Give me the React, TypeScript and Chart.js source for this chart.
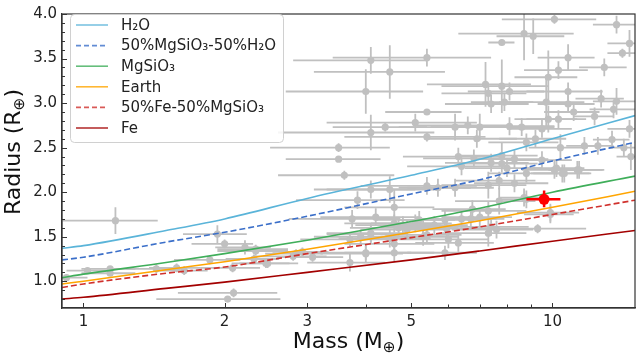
import { useEffect, useRef } from 'react';
import { Chart, registerables } from 'chart.js';

Chart.register(...registerables);

// ---------- model curves (mass in Earth masses, radius in Earth radii) ----------
const curveMass = [0.9, 1, 1.5, 2, 3, 5, 7, 10, 15];
const h2oRadius = [1.37, 1.40, 1.57, 1.70, 1.93, 2.19, 2.37, 2.60, 2.86];
const mgH2oRadius = [1.24, 1.27, 1.44, 1.55, 1.73, 1.98, 2.14, 2.35, 2.56];
const mgsio3Radius = [1.04, 1.08, 1.21, 1.31, 1.46, 1.67, 1.82, 2.00, 2.18];
const earthRadius = [0.97, 1.00, 1.13, 1.22, 1.36, 1.55, 1.68, 1.83, 2.01];
const feMgRadius = [0.93, 0.97, 1.09, 1.16, 1.31, 1.49, 1.61, 1.75, 1.91];
const feRadius = [0.80, 0.82, 0.92, 0.99, 1.10, 1.24, 1.34, 1.45, 1.57];

const seriesNames = ['H₂O', '50%MgSiO₃-50%H₂O', 'MgSiO₃', 'Earth', '50%Fe-50%MgSiO₃', 'Fe'];
const seriesColors = ['#5ab4d9', '#3b6fc9', '#3fae5a', '#ffa500', '#d0312d', '#a30000'];
const seriesDashed = [false, true, false, false, true, false];
const seriesRadii = [h2oRadius, mgH2oRadius, mgsio3Radius, earthRadius, feMgRadius, feRadius];

// ---------- known planets ----------
const planetMass = [
  10.1, 13.7, 8.7, 9.1, 7.8, 14.6, 14.1, 5.4, 4.1, 4.5, 4.0, 10.8, 10.3, 12.9, 9.8, 7.2, 7.8, 8.1, 7.3, 10.8,
  9.7, 7.4, 7.9, 10.8, 12.7, 13.7, 5.4, 11.1, 13.5, 12.3, 9.8, 5.1, 4.1, 4.4, 6.2, 6.6, 7.0, 8.1, 8.6, 9.5,
  10.3, 14.6, 5.4, 6.9, 8.8, 9.2, 13.4, 11.7, 12.5, 14.2, 3.5, 3.5, 3.6, 10.4, 14.7, 6.3, 6.8, 7.8, 8.3, 9.5,
  7.4, 7.8, 10.2, 10.6, 11.3, 8.8, 6.4,
  1.17, 0.92, 1.02, 1.14, 1.14, 1.43, 1.58, 1.64, 1.86, 1.93, 2.0, 2.21, 2.33, 2.08, 2.31, 2.45, 2.03, 2.09,
  2.84, 2.93, 3.08,
  3.84, 3.74, 4.1, 4.5, 4.6, 4.2, 4.6, 5.4, 5.7, 6.2, 7.3, 7.7, 8.3, 6.7, 7.3, 7.7, 8.8, 9.9, 9.3, 7.0,
  6.4, 5.9, 5.6, 5.3, 5.1, 4.9, 4.7, 4.5, 4.6, 4.6, 4.0, 3.9, 4.1, 3.7, 3.7, 6.0, 6.3, 5.9, 7.3, 7.6,
  7.4, 5.3, 4.8, 4.1, 4.0, 2.8, 2.47, 2.33, 5.95, 5.2, 5.4, 8.0, 10.1, 10.5, 11.4, 8.7, 6.75, 9.9,
];
const planetRadius = [
  3.94, 3.88, 3.78, 3.75, 3.68, 3.67, 3.56, 3.51, 3.48, 3.35, 3.13, 3.51, 3.37, 3.40, 3.29, 3.21, 3.19, 3.13, 3.11, 3.13,
  3.01, 2.99, 3.01, 2.99, 3.05, 3.02, 2.90, 2.90, 2.93, 2.85, 2.82, 2.78, 2.67, 2.73, 2.73, 2.75, 2.73, 2.74, 2.73, 2.71,
  2.82, 2.71, 2.62, 2.60, 2.56, 2.60, 2.59, 2.52, 2.52, 2.50, 2.50, 2.37, 2.19, 2.50, 2.40, 2.40, 2.38, 2.41, 2.37, 2.36,
  2.33, 2.32, 2.27, 2.21, 2.25, 2.21, 2.29,
  1.68, 1.04, 1.12, 1.14, 1.09, 1.14, 1.15, 1.12, 1.24, 1.53, 1.42, 1.38, 1.34, 1.15, 1.25, 1.20, 0.80, 0.87,
  1.31, 1.33, 1.27,
  1.91, 1.70, 2.03, 2.03, 1.83, 1.72, 1.65, 2.07, 2.05, 2.05, 2.08, 2.13, 2.10, 1.70, 1.79, 1.90, 1.92, 1.77, 1.59, 1.72,
  1.70, 1.69, 1.63, 1.61, 1.65, 1.58, 1.60, 1.48, 1.42, 1.32, 1.32, 1.50, 1.53, 1.47, 1.21, 1.47, 1.43, 1.32, 1.54, 1.58,
  1.61, 1.50, 1.63, 1.54, 1.31, 1.28, 1.20, 1.36, 1.59, 1.69, 1.52, 2.27, 2.25, 2.21, 2.25, 1.94, 1.81, 1.75,
];
const planetMassErr = [
  2.3, 1.5, 2.4, 1.5, 0.5, 1.5, 1.0, 2.0, 1.3, 1.4, 1.3, 1.5, 1.6, 1.5, 1.5, 1.8, 2.0, 1.5, 1.5, 2.0,
  2.0, 1.5, 1.2, 1.5, 1.5, 1.5, 1.0, 1.5, 1.5, 1.2, 1.5, 1.8, 1.5, 1.0, 1.5, 1.5, 1.5, 2.0, 1.5, 1.5,
  1.5, 1.5, 1.8, 1.5, 1.5, 1.5, 1.2, 1.0, 1.0, 1.0, 1.0, 0.8, 1.0, 1.5, 1.0, 1.5, 1.5, 1.5, 1.5, 1.5,
  1.5, 1.5, 1.5, 1.5, 1.5, 1.5, 1.5,
  0.27, 0.1, 0.1, 0.15, 0.15, 0.2, 0.2, 0.2, 0.3, 0.3, 0.3, 0.3, 0.4, 0.3, 0.3, 0.3, 0.6, 0.5,
  0.4, 0.4, 0.5,
  1.0, 1.0, 1.0, 1.2, 1.0, 1.0, 1.0, 1.5, 1.0, 1.3, 1.5, 1.5, 1.5, 1.2, 1.5, 1.5, 1.2, 1.5, 2.5, 1.2,
  1.2, 1.2, 1.0, 1.0, 1.0, 1.0, 1.0, 1.0, 1.0, 1.0, 1.0, 0.8, 0.8, 0.8, 0.7, 1.3, 1.2, 1.0, 1.5, 1.5,
  1.5, 1.0, 1.0, 0.8, 0.8, 0.5, 0.4, 0.4, 1.2, 1.0, 1.0, 1.5, 1.5, 1.5, 1.5, 1.0, 1.2, 1.2,
];
const planetRadiusErr = [
  0.05, 0.1, 0.3, 0.2, 0.03, 0.15, 0.05, 0.1, 0.15, 0.3, 0.25, 0.15, 0.1, 0.1, 0.3, 0.25, 0.3, 0.1, 0.1, 0.1,
  0.3, 0.1, 0.1, 0.1, 0.1, 0.15, 0.03, 0.1, 0.1, 0.1, 0.15, 0.1, 0.2, 0.05, 0.15, 0.1, 0.15, 0.1, 0.1, 0.1,
  0.1, 0.1, 0.05, 0.1, 0.1, 0.1, 0.1, 0.1, 0.1, 0.1, 0.05, 0.03, 0.05, 0.15, 0.15, 0.1, 0.1, 0.15, 0.1, 0.1,
  0.1, 0.1, 0.1, 0.1, 0.1, 0.1, 0.1,
  0.15, 0.03, 0.03, 0.03, 0.03, 0.05, 0.05, 0.05, 0.05, 0.1, 0.05, 0.08, 0.05, 0.05, 0.05, 0.05, 0.03, 0.05,
  0.05, 0.05, 0.05,
  0.1, 0.1, 0.1, 0.15, 0.2, 0.1, 0.1, 0.1, 0.1, 0.1, 0.15, 0.1, 0.1, 0.1, 0.1, 0.15, 0.1, 0.1, 0.05, 0.1,
  0.1, 0.1, 0.1, 0.1, 0.1, 0.1, 0.1, 0.1, 0.1, 0.1, 0.08, 0.08, 0.1, 0.08, 0.1, 0.1, 0.1, 0.08, 0.15, 0.1,
  0.1, 0.1, 0.1, 0.1, 0.1, 0.05, 0.05, 0.05, 0.1, 0.1, 0.1, 0.1, 0.1, 0.1, 0.1, 0.1, 0.1, 0.1,
];

// ---------- highlighted planet ----------
const targetMass = [9.6];
const targetRadius = [1.92];
const targetMassLow = [8.8];
const targetMassHigh = [10.4];
const targetRadiusLow = [1.83];
const targetRadiusHigh = [2.02];

// ---------- axes ----------
const xTickValues = [1, 2, 3, 5, 10];
const xMinorTicks = [4, 6, 7, 8, 9];
const yTickValues = [1.0, 1.5, 2.0, 2.5, 3.0, 3.5, 4.0];
const xMin = 0.9;
const xMax = 15;
const yMin = 0.7;
const yMax = 4.0;

const FONT = '"DejaVu Sans", "Liberation Sans", sans-serif';
const GRAY = '#c0c0c0';

function drawSubLabel(ctx: CanvasRenderingContext2D, main: string, sub: string, tail: string, size: number) {
  ctx.font = `${size}px ${FONT}`;
  const w1 = ctx.measureText(main).width;
  const w3 = ctx.measureText(tail).width;
  ctx.font = `${size * 0.7}px ${FONT}`;
  const w2 = ctx.measureText(sub).width;
  const total = w1 + w2 + w3;
  let x = -total / 2;
  ctx.textAlign = 'left';
  ctx.textBaseline = 'alphabetic';
  ctx.font = `${size}px ${FONT}`;
  ctx.fillText(main, x, 0);
  x += w1;
  ctx.font = `${size * 0.7}px ${FONT}`;
  ctx.fillText(sub, x, size * 0.2);
  x += w2;
  ctx.font = `${size}px ${FONT}`;
  ctx.fillText(tail, x, 0);
}

const decorPlugin = {
  id: 'decor',
  beforeDatasetsDraw(chart: any) {
    const { ctx, chartArea, scales } = chart;
    const xs = scales.x;
    const ys = scales.y;
    ctx.save();
    ctx.beginPath();
    ctx.rect(chartArea.left, chartArea.top, chartArea.right - chartArea.left, chartArea.bottom - chartArea.top);
    ctx.clip();
    ctx.strokeStyle = GRAY;
    ctx.lineWidth = 1.8;
    for (let i = 0; i < planetMass.length; i++) {
      const m = planetMass[i];
      const r = planetRadius[i];
      const px = xs.getPixelForValue(m);
      const py = ys.getPixelForValue(r);
      const x0 = xs.getPixelForValue(Math.max(m - planetMassErr[i], 0.05));
      const x1 = xs.getPixelForValue(m + planetMassErr[i]);
      const y0 = ys.getPixelForValue(r - planetRadiusErr[i]);
      const y1 = ys.getPixelForValue(r + planetRadiusErr[i]);
      ctx.beginPath();
      ctx.moveTo(x0, py);
      ctx.lineTo(x1, py);
      ctx.moveTo(px, y0);
      ctx.lineTo(px, y1);
      ctx.stroke();
    }
    ctx.restore();
  },
  afterDatasetsDraw(chart: any) {
    const { ctx, scales } = chart;
    const xs = scales.x;
    const ys = scales.y;
    ctx.save();
    ctx.strokeStyle = '#ff0000';
    ctx.lineWidth = 2.5;
    for (let i = 0; i < targetMass.length; i++) {
      const px = xs.getPixelForValue(targetMass[i]);
      const py = ys.getPixelForValue(targetRadius[i]);
      ctx.beginPath();
      ctx.moveTo(xs.getPixelForValue(targetMassLow[i]), py);
      ctx.lineTo(xs.getPixelForValue(targetMassHigh[i]), py);
      ctx.moveTo(px, ys.getPixelForValue(targetRadiusLow[i]));
      ctx.lineTo(px, ys.getPixelForValue(targetRadiusHigh[i]));
      ctx.stroke();
      ctx.fillStyle = '#ff0000';
      ctx.beginPath();
      ctx.arc(px, py, 5.5, 0, Math.PI * 2);
      ctx.fill();
    }
    ctx.restore();
  },
  afterDraw(chart: any) {
    const { ctx, chartArea, scales } = chart;
    const xs = scales.x;
    const ys = scales.y;
    const { left, right, top, bottom } = chartArea;
    ctx.save();
    // frame
    ctx.strokeStyle = '#333333';
    ctx.lineWidth = 1.2;
    ctx.strokeRect(left, top, right - left, bottom - top);
    // inward ticks
    ctx.strokeStyle = '#333333';
    ctx.lineWidth = 1;
    ctx.beginPath();
    for (const v of xTickValues) {
      const p = Math.round(xs.getPixelForValue(v)) + 0.5;
      ctx.moveTo(p, bottom);
      ctx.lineTo(p, bottom - 5);
    }
    for (const v of xMinorTicks) {
      const p = Math.round(xs.getPixelForValue(v)) + 0.5;
      ctx.moveTo(p, bottom);
      ctx.lineTo(p, bottom - 3.5);
    }
    for (const v of yTickValues) {
      const p = Math.round(ys.getPixelForValue(v)) + 0.5;
      ctx.moveTo(left, p);
      ctx.lineTo(left + 5, p);
    }
    for (let k = 8; k < 40; k++) {
      if (k % 5 === 0) continue;
      const p = Math.round(ys.getPixelForValue(k / 10)) + 0.5;
      ctx.moveTo(left, p);
      ctx.lineTo(left + 3, p);
    }
    ctx.stroke();

    // axis titles
    ctx.fillStyle = '#111111';
    ctx.save();
    ctx.translate((left + right) / 2, 348);
    drawSubLabel(ctx, 'Mass (M', '⊕', ')', 22);
    ctx.restore();
    ctx.save();
    ctx.translate(20, 152);
    ctx.rotate(-Math.PI / 2);
    drawSubLabel(ctx, 'Radius (R', '⊕', ')', 22);
    ctx.restore();

    // legend
    const bx = 70.5;
    const by = 14.5;
    const bw = 213;
    const bh = 128;
    ctx.beginPath();
    ctx.roundRect(bx, by, bw, bh, 4);
    ctx.fillStyle = 'rgba(255,255,255,0.85)';
    ctx.fill();
    ctx.strokeStyle = '#d0d0d0';
    ctx.lineWidth = 1;
    ctx.stroke();
    ctx.font = `15px ${FONT}`;
    ctx.textAlign = 'left';
    ctx.textBaseline = 'middle';
    for (let i = 0; i < seriesNames.length; i++) {
      const y = 25 + i * 20.6;
      ctx.beginPath();
      ctx.setLineDash(seriesDashed[i] ? [5, 3] : []);
      ctx.strokeStyle = seriesColors[i];
      ctx.globalAlpha = 0.8;
      ctx.lineWidth = 1.6;
      ctx.moveTo(76, y);
      ctx.lineTo(108, y);
      ctx.stroke();
      ctx.globalAlpha = 1;
      ctx.setLineDash([]);
      ctx.fillStyle = '#222222';
      ctx.fillText(seriesNames[i], 121, y + 1);
    }
    ctx.restore();
  },
};

export default function App() {
  const canvasRef = useRef<HTMLCanvasElement | null>(null);

  useEffect(() => {
    const canvas = canvasRef.current;
    if (!canvas) return;

    const lineSets = seriesNames.map((name, i) => ({
      type: 'line' as const,
      label: name,
      data: curveMass.map((m, j) => ({ x: m, y: seriesRadii[i][j] })),
      borderColor: seriesColors[i],
      backgroundColor: seriesColors[i],
      borderWidth: 1.6,
      borderDash: seriesDashed[i] ? [6, 3] : [],
      pointRadius: 0,
      cubicInterpolationMode: 'monotone' as const,
      fill: false,
      order: 1,
    }));

    const chart = new Chart(canvas, {
      type: 'scatter',
      data: {
        datasets: [
          {
            type: 'scatter' as const,
            label: 'planets',
            data: planetMass.map((m, i) => ({ x: m, y: planetRadius[i] })),
            backgroundColor: GRAY,
            borderColor: GRAY,
            pointRadius: 3.6,
            pointBorderWidth: 0,
            order: 10,
          },
          ...lineSets,
        ] as any,
      },
      options: {
        animation: false,
        responsive: false,
        devicePixelRatio: 1,
        layout: { padding: { left: 0, right: 5, top: 7, bottom: 0 } },
        plugins: {
          legend: { display: false },
          tooltip: { enabled: false },
          title: { display: false },
        },
        scales: {
          x: {
            type: 'logarithmic',
            min: xMin,
            max: xMax,
            afterBuildTicks: (s: any) => {
              s.ticks = xTickValues.map((v) => ({ value: v }));
            },
            afterFit: (s: any) => {
              s.height = 45;
            },
            grid: { display: false, drawTicks: false },
            border: { display: true, color: '#333333', width: 1.2 },
            ticks: {
              autoSkip: false,
              maxRotation: 0,
              padding: 5,
              color: '#222222',
              font: { family: FONT, size: 15 },
              callback: (v: any) => String(v),
            },
          },
          y: {
            type: 'linear',
            min: yMin,
            max: yMax,
            afterBuildTicks: (s: any) => {
              s.ticks = yTickValues.map((v) => ({ value: v }));
            },
            afterFit: (s: any) => {
              s.width = 62;
            },
            grid: { display: false, drawTicks: false },
            border: { display: true, color: '#333333', width: 1.2 },
            ticks: {
              autoSkip: false,
              padding: 5,
              color: '#222222',
              font: { family: FONT, size: 15 },
              callback: (v: any) => Number(v).toFixed(1),
            },
          },
        },
      },
      plugins: [decorPlugin],
    });

    return () => {
      chart.destroy();
    };
  }, []);

  return (
    <div style={{ position: 'fixed', left: 0, top: 0, width: 640, height: 353, background: '#ffffff' }}>
      <canvas ref={canvasRef} width={640} height={353} style={{ display: 'block' }} />
    </div>
  );
}
